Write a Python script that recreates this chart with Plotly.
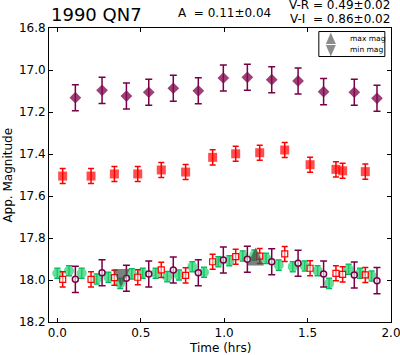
import plotly.graph_objects as go

# ---- data ----
# V band (top, diamonds) and V-shifted points (bottom, hollow circles)
v_time = [0.108, 0.268, 0.414, 0.548, 0.695, 0.845, 0.995, 1.139, 1.285, 1.443, 1.596, 1.780, 1.916]
v_mag = [17.132, 17.097, 17.124, 17.106, 17.087, 17.099, 17.038, 17.035, 17.046, 17.052, 17.103, 17.106, 17.135]
v_err = [0.062] * 13
v_shift_mag = [17.997, 17.965, 17.992, 17.971, 17.952, 17.965, 17.905, 17.901, 17.913, 17.920, 17.971, 17.976, 18.003]

# R band (middle, squares) and R-shifted points (bottom, hollow squares)
r_time = [0.032, 0.202, 0.342, 0.482, 0.623, 0.769, 0.931, 1.069, 1.213, 1.363, 1.515, 1.670, 1.710, 1.846]
r_mag = [17.505, 17.505, 17.495, 17.495, 17.476, 17.486, 17.416, 17.399, 17.394, 17.381, 17.451, 17.473, 17.480, 17.484]
r_err = [0.036] * 14
r_shift_mag = [17.997, 17.997, 17.989, 17.987, 17.952, 17.978, 17.913, 17.889, 17.886, 17.876, 17.944, 17.968, 17.973, 17.976]

# I band (bottom, green circles)
i_time = [0.0, 0.070, 0.146, 0.236, 0.306, 0.377, 0.446, 0.512, 0.589, 0.659, 0.729, 0.809, 0.879,
          0.965, 1.031, 1.111, 1.181, 1.251, 1.327, 1.411, 1.483, 1.560, 1.629, 1.746, 1.814, 1.884]
i_mag = [17.968, 17.956, 17.968, 17.995, 17.987, 18.016, 17.971, 17.968, 17.968, 17.984, 17.976, 17.937, 17.963,
         17.913, 17.908, 17.886, 17.881, 17.897, 17.929, 17.937, 17.933, 17.956, 18.016, 17.949, 17.968, 17.981]
i_err = [0.024] * 26

# extrema
max_time, max_mag = 1.188, 17.888
min_time, min_mag = 0.383, 17.990

x_ticks = [0.0, 0.5, 1.0, 1.5, 2.0]
y_ticks = [16.8, 17.0, 17.2, 17.4, 17.6, 17.8, 18.0, 18.2]

FONT = "DejaVu Sans"
PURPLE = "rgb(120,0,70)"
RED = "rgb(255,0,0)"
GREEN = "rgb(0,185,90)"

fig = go.Figure()

fig.add_trace(go.Scatter(
    x=v_time, y=v_mag, mode="markers",
    marker=dict(symbol="diamond", size=9, color="rgba(128,10,80,0.78)", line=dict(width=0)),
    error_y=dict(type="data", array=v_err, color=PURPLE, thickness=1.5, width=3.5),
))
fig.add_trace(go.Scatter(
    x=r_time, y=r_mag, mode="markers",
    marker=dict(symbol="square", size=9, color="rgba(255,0,0,0.7)", line=dict(width=0)),
    error_y=dict(type="data", array=r_err, color=RED, thickness=1.5, width=3),
))
fig.add_trace(go.Scatter(
    x=i_time, y=i_mag, mode="markers",
    marker=dict(symbol="circle", size=10, color="rgba(30,210,110,0.7)", line=dict(width=0)),
    error_y=dict(type="data", array=i_err, color=GREEN, thickness=1.5, width=3),
))
fig.add_trace(go.Scatter(
    x=r_time, y=r_shift_mag, mode="markers",
    marker=dict(symbol="square", size=6, color="rgba(255,255,255,0.5)", line=dict(width=1.2, color=RED)),
    error_y=dict(type="data", array=r_err, color=RED, thickness=1.5, width=3),
))
fig.add_trace(go.Scatter(
    x=v_time, y=v_shift_mag, mode="markers",
    marker=dict(symbol="circle", size=6, color="rgba(255,255,255,0.6)", line=dict(width=1.5, color=PURPLE)),
    error_y=dict(type="data", array=v_err, color=PURPLE, thickness=1.5, width=3.5),
))

shapes = []
# extrema triangles anchored at data values
shapes.append(dict(type="path", xref="x", yref="y", xsizemode="pixel", ysizemode="pixel",
                   xanchor=max_time, yanchor=max_mag, path="M-8.5,-9 L8.5,-9 L0,9 Z",
                   fillcolor="rgba(70,75,70,0.7)", line=dict(width=0), layer="above"))
shapes.append(dict(type="path", xref="x", yref="y", xsizemode="pixel", ysizemode="pixel",
                   xanchor=min_time, yanchor=min_mag, path="M-8.5,9 L8.5,9 L0,-9 Z",
                   fillcolor="rgba(70,75,70,0.7)", line=dict(width=0), layer="above"))
# legend box
shapes.append(dict(type="rect", xref="paper", yref="paper", x0=0.789, x1=0.982, y0=0.903, y1=0.988,
                   line=dict(color="black", width=1), fillcolor="white", layer="above"))
shapes.append(dict(type="path", xref="paper", yref="paper", xsizemode="pixel", ysizemode="pixel",
                   xanchor=0.824, yanchor=0.944, path="M-5,0.5 L5,0.5 L0,12 Z",
                   fillcolor="rgb(140,140,140)", line=dict(width=0), layer="above"))
shapes.append(dict(type="path", xref="paper", yref="paper", xsizemode="pixel", ysizemode="pixel",
                   xanchor=0.824, yanchor=0.944, path="M-5,-0.5 L5,-0.5 L0,-12 Z",
                   fillcolor="rgb(140,140,140)", line=dict(width=0), layer="above"))

annotations = [
    dict(text="1990 QN7", xref="paper", yref="paper", x=0.0, y=1, xanchor="left", yanchor="middle",
         yshift=14, showarrow=False, font=dict(family=FONT, size=18, color="black")),
    dict(text="A\u00a0\u00a0= 0.11±0.04", xref="paper", yref="paper", x=0.371, y=1, xanchor="left",
         yanchor="middle", yshift=15.5, showarrow=False, font=dict(family=FONT, size=12, color="black")),
    dict(text="V-R = 0.49±0.02", xref="paper", yref="paper", x=1.003, y=1, xanchor="right",
         yanchor="middle", yshift=23.5, showarrow=False, font=dict(family=FONT, size=12, color="black")),
    dict(text="V-I\u00a0\u00a0= 0.86±0.02", xref="paper", yref="paper", x=1.003, y=1, xanchor="right",
         yanchor="middle", yshift=9.5, showarrow=False, font=dict(family=FONT, size=12, color="black")),
    dict(text="max mag", xref="paper", yref="paper", x=0.874, y=0.944, xanchor="left", yanchor="middle",
         yshift=6, showarrow=False, font=dict(family=FONT, size=7.5, color="black")),
    dict(text="min mag", xref="paper", yref="paper", x=0.874, y=0.944, xanchor="left", yanchor="middle",
         yshift=-5.5, showarrow=False, font=dict(family=FONT, size=7.5, color="black")),
    dict(text="App. Magnitude", xref="paper", yref="paper", x=-0.121, y=0.5, xanchor="center",
         yanchor="middle", textangle=-90, showarrow=False, font=dict(family=FONT, size=12, color="black")),
    dict(text="Time (hrs)", xref="paper", yref="paper", x=0.5, y=-0.0886, xanchor="center",
         yanchor="middle", showarrow=False, font=dict(family=FONT, size=12, color="black")),
]

fig.update_layout(
    width=400, height=355,
    margin=dict(l=49, r=9, t=28, b=33, pad=0, autoexpand=False),
    paper_bgcolor="white", plot_bgcolor="white",
    showlegend=False,
    font=dict(family=FONT, size=12, color="black"),
    shapes=shapes, annotations=annotations,
    xaxis=dict(range=[-0.05, 2.0], tickvals=x_ticks, ticktext=[f"{v:.1f}" for v in x_ticks],
               ticks="inside", ticklen=4, tickwidth=1, tickcolor="black", showline=True, linecolor="black",
               linewidth=1, mirror="ticks", showgrid=False, zeroline=False, ticklabeloverflow="allow",
               automargin=False, tickfont=dict(family=FONT, size=12, color="black")),
    yaxis=dict(range=[18.2, 16.8], tickvals=y_ticks, ticktext=[f"{v:.1f}" for v in y_ticks],
               ticks="inside", ticklen=4, tickwidth=1, tickcolor="black", showline=True, linecolor="black",
               linewidth=1, mirror="ticks", showgrid=False, zeroline=False, ticklabeloverflow="allow",
               automargin=False, tickfont=dict(family=FONT, size=12, color="black")),
)

fig.write_html("out.html", config={"displayModeBar": False},
               post_script="document.body.style.margin='0px';document.body.style.overflow='hidden';")
